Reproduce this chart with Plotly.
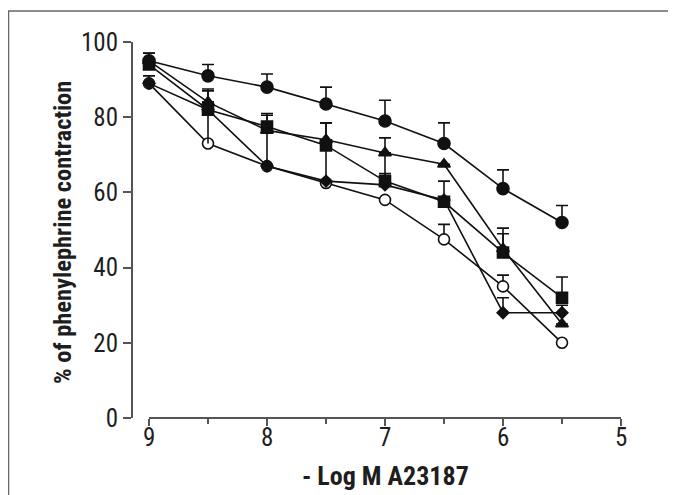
import plotly.graph_objects as go

# ---- data ----
x_vals = [9, 8.5, 8, 7.5, 7, 6.5, 6, 5.5]

circle_filled = [95, 91, 88, 83.5, 79, 73, 61, 52]
circle_filled_err = [2, 3, 3.5, 4.5, 5.5, 5.5, 5, 4.5]

triangle = [95, 84, 76.5, 74, 70.5, 67.5, 45, 25]
triangle_err = [2, 3.5, 4, 4.5, 4, 0, 4, 3]
triangle_err_low = [0, 0, 0, 0, 7.5, 0, 0, 0]

square = [94, 82, 77.5, 72.5, 63, 57.5, 44, 32]
square_err = [3, 5, 3.5, 6, 2, 5.5, 6.5, 5.5]
square_err_low = [0, 9, 10, 10, 0, 0, 0, 0]

diamond = [89, 82, 67, 63, 62, 58, 28, 28]
diamond_err = [2, 2, 0, 0, 0, 0, 4, 2]

circle_open = [89, 73, 67, 62.5, 58, 47.5, 35, 20]
circle_open_err = [0, 0, 0, 0, 0, 4, 3, 0]

x_major_ticks = [9, 8, 7, 6, 5]
x_ticklabels = ["9", "8", "7", "6", "5"]
x_minor_ticks = [8.5, 7.5, 6.5, 5.5]
y_tickvals = [0, 20, 40, 60, 80, 100]

x_title = "- Log M A23187"
y_title = "% of phenylephrine contraction"

# ---- style ----
INK = "#111111"
AXIS = "#555555"
TEXT = "#1e1e1e"
FONT = "Roboto Condensed, Open Sans Condensed, sans-serif"
LW = 1.6

fig = go.Figure()


def add_series(y, err, symbol, size, fill, err_low=None):
    if err_low is not None:
        fig.add_trace(go.Scatter(
            x=x_vals, y=y, mode="markers",
            marker=dict(size=1, opacity=0),
            error_y=dict(type="data", symmetric=False,
                         array=[0] * len(y), arrayminus=err_low,
                         width=0, thickness=LW, color=INK),
            showlegend=False, hoverinfo="skip"))
    fig.add_trace(go.Scatter(
        x=x_vals, y=y, mode="lines+markers",
        line=dict(color=INK, width=LW),
        marker=dict(symbol=symbol, size=size, color=fill,
                    line=dict(color=INK, width=LW)),
        error_y=dict(type="data", symmetric=False, array=err,
                     arrayminus=[0] * len(y), width=6,
                     thickness=LW, color=INK),
        showlegend=False))


add_series(circle_open, circle_open_err, "circle", 11, "white")
add_series(diamond, diamond_err, "diamond", 9, INK)
add_series(square, square_err, "square", 11, INK, square_err_low)
add_series(triangle, triangle_err, "triangle-up", 11, INK, triangle_err_low)
add_series(circle_filled, circle_filled_err, "circle", 12, INK)

# The page body has an 8px default margin; the figure starts at (8, 8).
OFF = 8
L, R, T, B = 133 - OFF, 55, 42 - OFF, 85 - OFF
W, H = 676 - OFF, 495 - OFF
pw, ph = W - L - R, H - T - B


def py(page_y):
    """page pixel y -> paper y"""
    return ((T + ph) - (page_y - OFF)) / ph


def px(page_x):
    """page pixel x -> paper x"""
    return (page_x - OFF - L) / pw


annotations = [
    dict(text=f"<b>{x_title}</b>", xref="paper", yref="paper",
         x=px(385), y=py(476),
         xanchor="center", yanchor="middle", showarrow=False,
         font=dict(size=26, family=FONT, color=TEXT)),
    dict(text=f"<b>{y_title}</b>", xref="paper", yref="paper",
         x=px(62), y=py(233),
         xanchor="center", yanchor="middle", showarrow=False,
         textangle=-90,
         font=dict(size=24.5, family=FONT, color=TEXT)),
]
for xv, lab in zip(x_major_ticks, x_ticklabels):
    annotations.append(dict(
        text=lab, xref="x", yref="paper", x=xv, y=py(437),
        xanchor="center", yanchor="middle", showarrow=False,
        font=dict(size=25, family=FONT, color=TEXT)))

fig.update_layout(
    width=W, height=H,
    margin=dict(l=L, r=R, t=T, b=B),
    paper_bgcolor="white", plot_bgcolor="white",
    font=dict(family=FONT, color=TEXT),
    xaxis=dict(
        range=[9 + 16 / 118.0, 5],
        tickvals=x_major_ticks, showticklabels=False,
        ticks="outside", ticklen=7, tickwidth=1.5, tickcolor=AXIS,
        minor=dict(tickvals=x_minor_ticks, ticks="outside", ticklen=5,
                   tickwidth=1.5, tickcolor=AXIS, showgrid=False),
        showline=False, showgrid=False, zeroline=False,
    ),
    yaxis=dict(
        range=[0, 100],
        tickvals=y_tickvals,
        ticks="outside", ticklen=8, tickwidth=1.5, tickcolor=AXIS,
        showline=True, linecolor=AXIS, linewidth=2,
        showgrid=False, zeroline=False,
        tickfont=dict(size=25, family=FONT, color=TEXT),
        ticklabelstandoff=0,
    ),
    shapes=[
        # x-axis baseline spanning the data domain only
        dict(type="line", xref="x", yref="paper", x0=9, x1=5, y0=0, y1=0,
             line=dict(color=AXIS, width=2)),
        # frame (top and left edges)
        dict(type="line", xref="paper", yref="paper",
             x0=px(8), x1=px(676 + 2),
             y0=py(11), y1=py(11),
             line=dict(color="#666666", width=1.5)),
        dict(type="line", xref="paper", yref="paper",
             x0=px(8.5), x1=px(8.5),
             y0=py(11), y1=py(500),
             line=dict(color="#666666", width=1.5)),
    ],
    annotations=annotations,
)

fig.write_html("out.html")
